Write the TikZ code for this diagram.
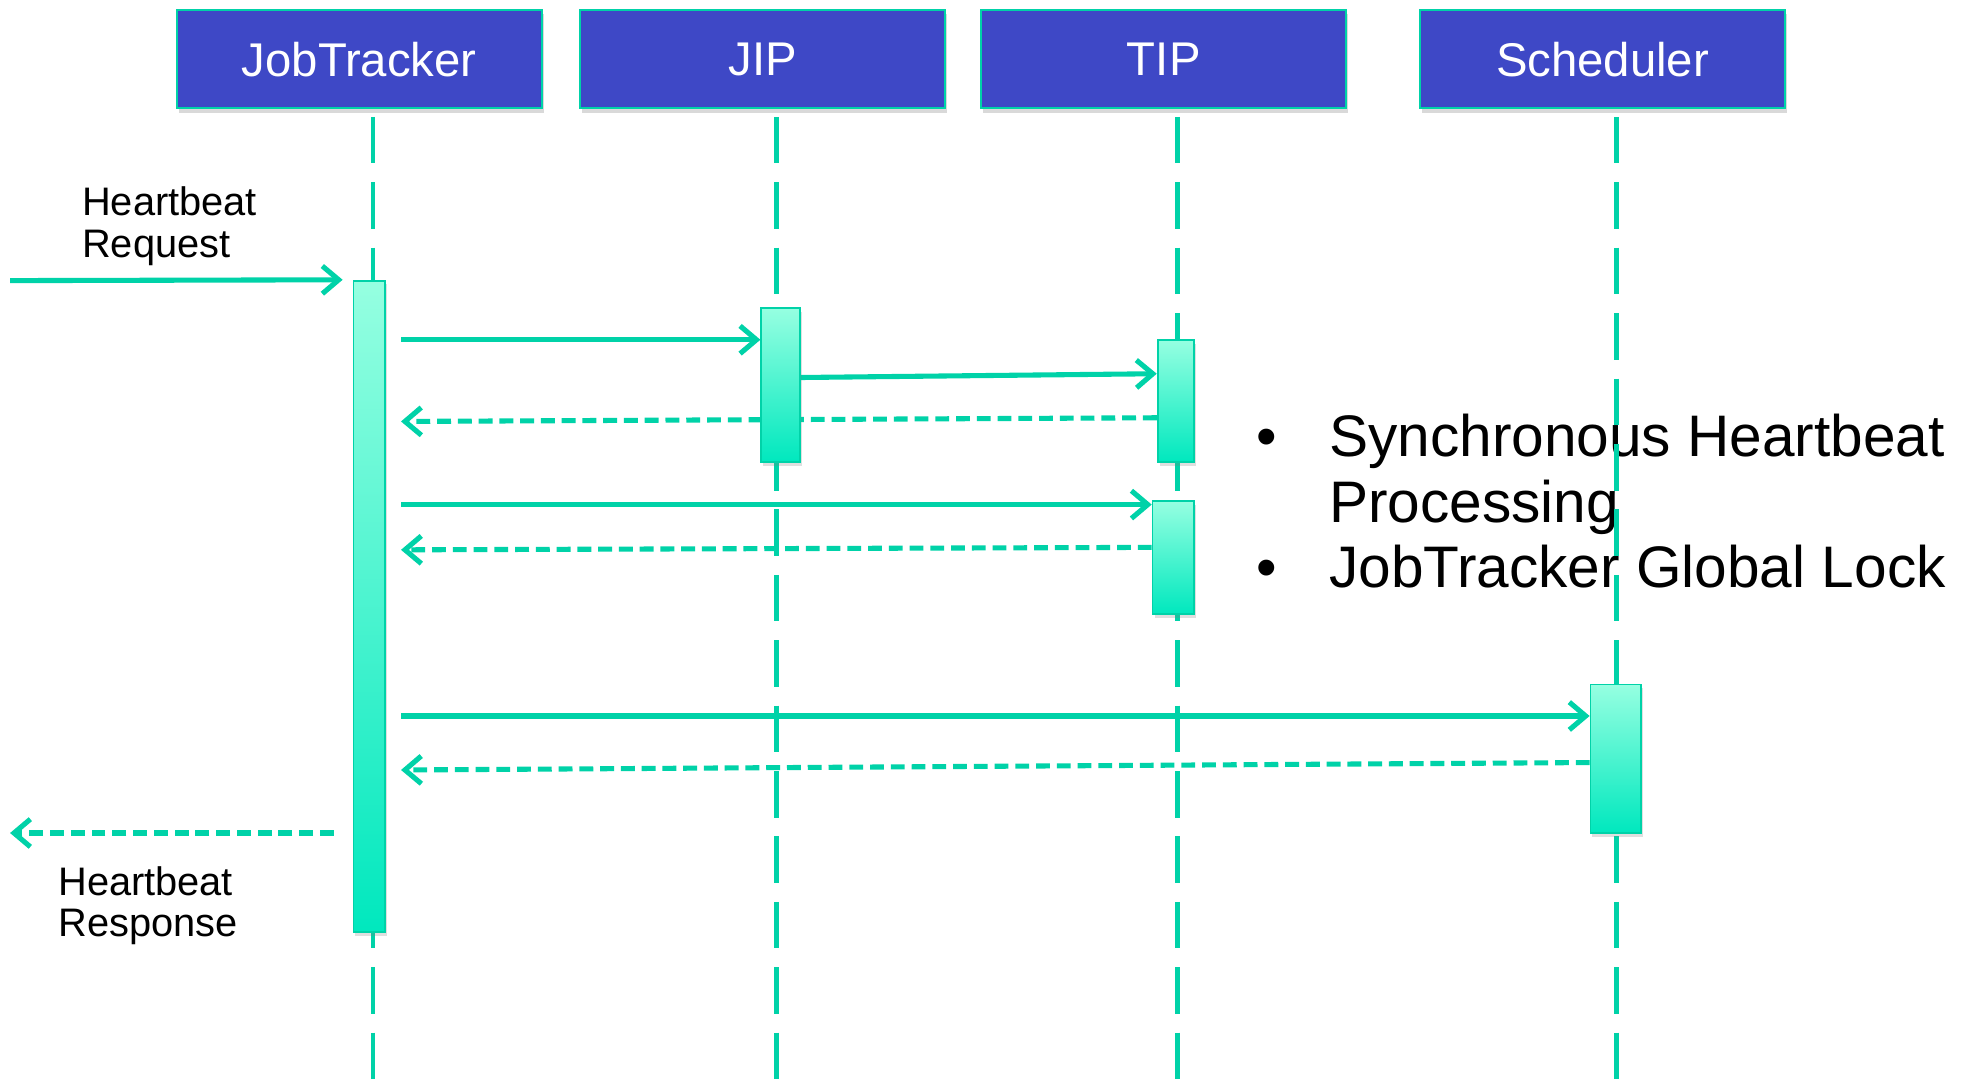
\documentclass[tikz,border=0pt]{standalone}
\usepackage{fontspec}
\setmainfont{Liberation Sans}
\usetikzlibrary{positioning}
\usetikzlibrary{calc}
\usetikzlibrary{arrows.meta}
\usetikzlibrary{shadows}
\usetikzlibrary{backgrounds}
\definecolor{mint}{RGB}{0,210,168}
\definecolor{indigo}{RGB}{62,72,198}
\definecolor{barlight}{RGB}{150,255,225}
\definecolor{bardark}{RGB}{0,232,190}

\begin{document}
\begin{tikzpicture}[
    x=0.02cm, y=-0.02cm,
    >={Straight Barb[length=0.26cm, width=0.44cm]},
    % node styles
    head/.style = {
      draw=mint,
      line width=1pt,
      fill=indigo,
      minimum width=5.8cm,
      minimum height=1.56cm,
      inner sep=0pt,
      text=white,
      font=\fontsize{21.4}{24}\selectfont,
      drop shadow={opacity=0.3, shadow xshift=0.03cm, shadow yshift=-0.07cm}
    },
    bar/.style = {
      draw=mint,
      line width=0.8pt,
      top color=barlight,
      bottom color=bardark,
      inner sep=0pt,
      drop shadow={opacity=0.25, shadow xshift=0.03cm, shadow yshift=-0.06cm}
    },
    lbl/.style = {align=left, inner sep=0pt, font=\fontsize{18}{18.8}\selectfont},
    note/.style = {inner sep=0pt, font=\fontsize{26.5}{29.6}\selectfont},
    % line styles
    life/.style = {draw=mint, line width=2pt, dash pattern=on 0.74cm off 0.3cm},
    msg/.style = {->, line width=2.3pt, draw=mint},
    ret/.style = {->, line width=2.3pt, draw=mint, dash pattern=on 0.22cm off 0.11cm}
  ]
  \useasboundingbox (0,0) rectangle (1568,860);

  % --- Heads
  \node[head] (jt) at (285.5,47) {JobTracker};
  \node[head, right=0.58cm of jt] (jip) {JIP};
  \node[head, right=0.54cm of jip] (tip) {TIP};
  \node[head, right=1.14cm of tip] (sch) {Scheduler};

  % --- Activations
  \node[bar, minimum width=0.5cm, minimum height=10.36cm] (jtbar) at (293.5,482) {};
  \node[bar, minimum width=0.62cm, minimum height=2.44cm] (jipbar) at (620.5,306) {};
  \node[bar, minimum width=0.58cm, minimum height=1.94cm] (tipa) at (934.5,318.5) {};
  \node[bar, minimum width=0.66cm, minimum height=1.8cm] (tipb) at (932.5,443) {};
  \node[bar, minimum width=0.8cm, minimum height=2.36cm] (schbar) at (1284,603) {};

  \begin{scope}[on background layer]
    % --- Notes
    \node[note, anchor=base west] (dot1) at (998,363) {\textbullet};
    \node[note, anchor=base west] (sync) at (1056,363) {Synchronous Heartbeat};
    \node[note, anchor=base west] (proc) at ([yshift=-1.04cm]sync.base west) {Processing};
    \node[note, anchor=base west] (dot2) at ([yshift=-2.08cm]dot1.base west) {\textbullet};
    \node[note, anchor=base west] (lock) at ([yshift=-1.04cm]proc.base west) {JobTracker Global Lock};

    % --- Lifelines
    \draw[life] ([xshift=0.22cm, yshift=-0.12cm]jt.south) -- ++(0,780);
    \draw[life] ([xshift=0.22cm, yshift=-0.12cm]jip.south) -- ++(0,780);
    \draw[life] ([xshift=0.22cm, yshift=-0.12cm]tip.south) -- ++(0,780);
    \draw[life] ([xshift=0.22cm, yshift=-0.12cm]sch.south) -- ++(0,780);

    % --- Messages
    \coordinate (reqin) at (8,223);
    \coordinate (respout) at (8,662);
    \draw[msg] (reqin) -- ([xshift=-0.16cm]jtbar.north west);
    \draw[msg, shorten <=0.24cm] (jtbar.east |- 0,270) -- (jipbar.west |- 0,270);
    \draw[msg] (jipbar.east |- 0,300) -- (tipa.west |- 0,297);
    \draw[ret, shorten >=0.24cm] (tipa.west |- 0,332) -- (jtbar.east |- 0,335);
    \draw[msg, shorten <=0.24cm] (jtbar.east |- 0,401) -- (tipb.west |- 0,401);
    \draw[ret, shorten >=0.24cm] (tipb.west |- 0,435) -- (jtbar.east |- 0,437);
    \draw[msg, shorten <=0.24cm] (jtbar.east |- 0,569) -- (schbar.west |- 0,569);
    \draw[ret, shorten >=0.24cm] (schbar.west |- 0,606) -- (jtbar.east |- 0,612);
    \draw[ret, shorten <=0.3cm] (jtbar.west |- 0,662) -- (respout);
  \end{scope}

  % --- Labels
  \node[lbl, anchor=north west] (reqlbl) at (65,148) {Heartbeat\\Request};
  \node[lbl, anchor=north west] (resplbl) at (46,688) {Heartbeat\\Response};

\end{tikzpicture}
\end{document}
